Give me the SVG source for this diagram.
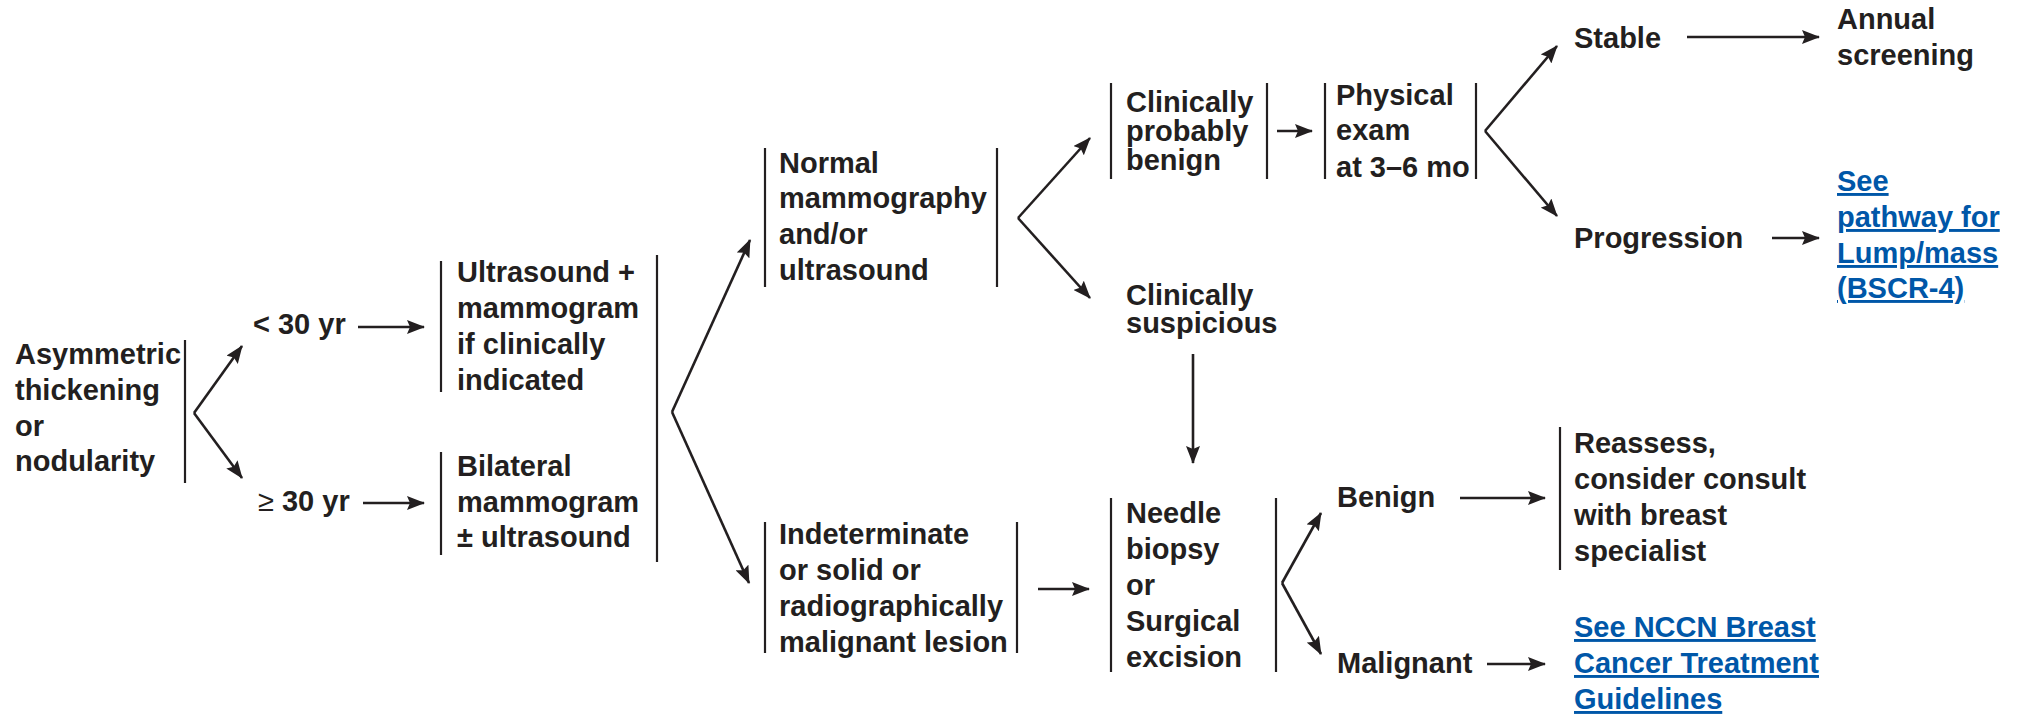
<svg xmlns="http://www.w3.org/2000/svg" width="2020" height="715" viewBox="0 0 2020 715">
  <style>
    text { font-family: "Liberation Sans", Arial, sans-serif; font-size: 29px; font-weight: bold; fill: #231f20; }
    text.link { fill: #0057a8; text-decoration: underline; }
    .sym { font-weight: normal; }
    .bar { stroke: #231f20; stroke-width: 2.2; fill: none; }
    .edge { stroke: #231f20; stroke-width: 2.6; fill: none; marker-end: url(#head); }
  </style>
  <defs>
    <marker id="head" markerUnits="userSpaceOnUse" viewBox="0 0 18 14" markerWidth="18" markerHeight="14" refX="17" refY="7" orient="auto">
      <path d="M0,0 L18,7 L0,14 L3,7 Z" fill="#231f20"/>
    </marker>
  </defs>
  <rect width="2020" height="715" fill="#ffffff"/>

  <!-- nodes -->
  <g id="start">
    <text x="15" y="364">Asymmetric</text>
    <text x="15" y="400">thickening</text>
    <text x="15" y="436">or</text>
    <text x="15" y="471">nodularity</text>
    <line class="bar" x1="185" y1="340" x2="185" y2="483"/>
  </g>
  <g id="age-under-30">
    <text x="253" y="334">&lt; 30 yr</text>
  </g>
  <g id="age-30-plus">
    <text x="258" y="511"><tspan class="sym">≥</tspan> 30 yr</text>
  </g>
  <g id="ultrasound">
    <line class="bar" x1="441" y1="261" x2="441" y2="392"/>
    <text x="457" y="282">Ultrasound +</text>
    <text x="457" y="318">mammogram</text>
    <text x="457" y="354">if clinically</text>
    <text x="457" y="390">indicated</text>
  </g>
  <g id="bilateral">
    <line class="bar" x1="441" y1="452" x2="441" y2="555"/>
    <text x="457" y="476">Bilateral</text>
    <text x="457" y="512">mammogram</text>
    <text x="457" y="547">± ultrasound</text>
  </g>
  <g id="imaging-result">
    <line class="bar" x1="657" y1="255" x2="657" y2="562"/>
  </g>
  <g id="normal">
    <line class="bar" x1="765" y1="148" x2="765" y2="287"/>
    <text x="779" y="173">Normal</text>
    <text x="779" y="208">mammography</text>
    <text x="779" y="244">and/or</text>
    <text x="779" y="280">ultrasound</text>
    <line class="bar" x1="997" y1="148" x2="997" y2="287"/>
  </g>
  <g id="indeterminate">
    <line class="bar" x1="765" y1="522" x2="765" y2="653"/>
    <text x="779" y="544">Indeterminate</text>
    <text x="779" y="580">or solid or</text>
    <text x="779" y="616">radiographically</text>
    <text x="779" y="652">malignant lesion</text>
    <line class="bar" x1="1017" y1="522" x2="1017" y2="653"/>
  </g>
  <g id="probably-benign">
    <line class="bar" x1="1111" y1="83" x2="1111" y2="179"/>
    <text x="1126" y="112">Clinically</text>
    <text x="1126" y="141">probably</text>
    <text x="1126" y="170">benign</text>
    <line class="bar" x1="1267" y1="83" x2="1267" y2="179"/>
  </g>
  <g id="physical-exam">
    <line class="bar" x1="1325" y1="83" x2="1325" y2="179"/>
    <text x="1336" y="105">Physical</text>
    <text x="1336" y="140">exam</text>
    <text x="1336" y="177">at 3–6 mo</text>
    <line class="bar" x1="1476" y1="83" x2="1476" y2="179"/>
  </g>
  <g id="suspicious">
    <text x="1126" y="305">Clinically</text>
    <text x="1126" y="333">suspicious</text>
  </g>
  <g id="stable">
    <text x="1574" y="48">Stable</text>
  </g>
  <g id="annual">
    <text x="1837" y="29">Annual</text>
    <text x="1837" y="65">screening</text>
  </g>
  <g id="progression">
    <text x="1574" y="248">Progression</text>
  </g>
  <g id="lump-pathway">
    <text class="link" x="1837" y="191">See</text>
    <text class="link" x="1837" y="227">pathway for</text>
    <text class="link" x="1837" y="263">Lump/mass</text>
    <text class="link" x="1837" y="298">(BSCR-4)</text>
  </g>
  <g id="biopsy">
    <line class="bar" x1="1111" y1="498" x2="1111" y2="672"/>
    <text x="1126" y="523">Needle</text>
    <text x="1126" y="559">biopsy</text>
    <text x="1126" y="595">or</text>
    <text x="1126" y="631">Surgical</text>
    <text x="1126" y="667">excision</text>
    <line class="bar" x1="1276" y1="498" x2="1276" y2="672"/>
  </g>
  <g id="benign">
    <text x="1337" y="507">Benign</text>
  </g>
  <g id="reassess">
    <line class="bar" x1="1560" y1="427" x2="1560" y2="570"/>
    <text x="1574" y="453">Reassess,</text>
    <text x="1574" y="489">consider consult</text>
    <text x="1574" y="525">with breast</text>
    <text x="1574" y="561">specialist</text>
  </g>
  <g id="malignant">
    <text x="1337" y="673">Malignant</text>
  </g>
  <g id="treatment-guidelines">
    <text class="link" x="1574" y="637">See NCCN Breast</text>
    <text class="link" x="1574" y="673">Cancer Treatment</text>
    <text class="link" x="1574" y="709">Guidelines</text>
  </g>

  <!-- connectors -->
  <g id="connectors">
    <line class="edge" x1="194" y1="413" x2="242" y2="346"/>
    <line class="edge" x1="194" y1="413" x2="242" y2="478"/>
    <line class="edge" x1="358" y1="327" x2="424" y2="327"/>
    <line class="edge" x1="363" y1="503" x2="424" y2="503"/>
    <line class="edge" x1="672" y1="412" x2="750" y2="240"/>
    <line class="edge" x1="672" y1="412" x2="749" y2="583"/>
    <line class="edge" x1="1018" y1="218" x2="1090" y2="138"/>
    <line class="edge" x1="1018" y1="218" x2="1090" y2="298"/>
    <line class="edge" x1="1277" y1="131" x2="1312" y2="131"/>
    <line class="edge" x1="1485" y1="131" x2="1557" y2="46"/>
    <line class="edge" x1="1485" y1="131" x2="1557" y2="216"/>
    <line class="edge" x1="1687" y1="37" x2="1819" y2="37"/>
    <line class="edge" x1="1772" y1="238" x2="1819" y2="238"/>
    <line class="edge" x1="1193" y1="354" x2="1193" y2="463"/>
    <line class="edge" x1="1038" y1="589" x2="1089" y2="589"/>
    <line class="edge" x1="1282" y1="583" x2="1321" y2="513"/>
    <line class="edge" x1="1282" y1="583" x2="1321" y2="654"/>
    <line class="edge" x1="1460" y1="498" x2="1545" y2="498"/>
    <line class="edge" x1="1487" y1="664" x2="1545" y2="664"/>
  </g>
</svg>
